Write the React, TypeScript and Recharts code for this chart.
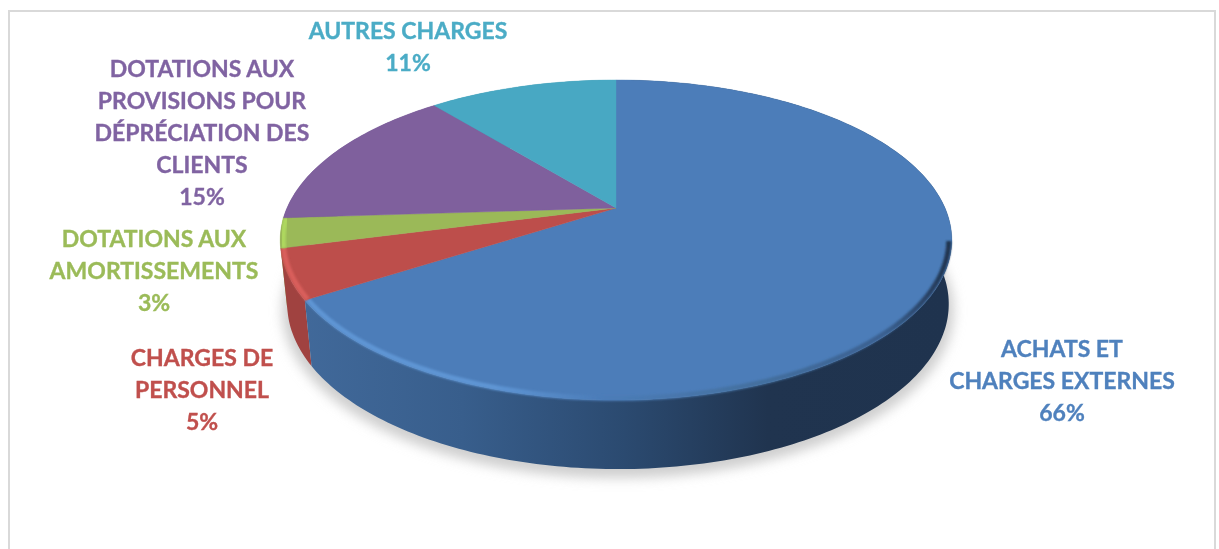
import { PieChart, Pie, Cell } from "recharts";

const categories = [
  "ACHATS ET CHARGES EXTERNES",
  "CHARGES DE PERSONNEL",
  "DOTATIONS AUX AMORTISSEMENTS",
  "DOTATIONS AUX PROVISIONS POUR DÉPRÉCIATION DES CLIENTS",
  "AUTRES CHARGES",
];
const shares = [66, 5, 3, 15, 11];
const labelLines = [
  ["ACHATS ET", "CHARGES EXTERNES"],
  ["CHARGES DE", "PERSONNEL"],
  ["DOTATIONS AUX", "AMORTISSEMENTS"],
  ["DOTATIONS AUX", "PROVISIONS POUR", "DÉPRÉCIATION DES", "CLIENTS"],
  ["AUTRES CHARGES"],
];

const colors = ["#4c7db9", "#bd4e4b", "#9bb958", "#7f609d", "#48a8c3"];
const textColors = ["#4f81bd", "#c0504d", "#9bbb59", "#8064a2", "#4bacc6"];
const rims = ["url(#rimBlue)", "#d95f5b", "#aed85f", "none", "none"];
const walls = ["url(#wallBlue)", "#a04240", "#88a64c", "#6f5590", "#3f93a9"];
const labelBoxes = [
  { x: 1062, y: 357, gap: 32 },
  { x: 202, y: 366, gap: 32 },
  { x: 154, y: 247, gap: 32 },
  { x: 202, y: 77, gap: 32 },
  { x: 408, y: 39, gap: 32 },
];

const data = categories.map((name, i) => ({ name, value: shares[i] }));
const sideData = [...data].reverse();
const wholeData = [{ name: "total", value: shares.reduce((a, b) => a + b, 0) }];

const WIDTH = 1219;
const HEIGHT = 549;

// the pie is tilted with perspective: near edge is bigger than the far edge
const TOP = { dx: 0, dy: 0, scale: 1, ratio: 0.467 };
const BOTTOM = { dx: 2, dy: 63, scale: 0.985, ratio: 0.489 };
const SHADOW = { dx: 2, dy: 69, scale: 1.0, ratio: 0.489 };
const K = 0.2;

type Ring = { dx: number; dy: number; scale: number; ratio: number };

function project(cx: number, cy: number, r: number, ring: Ring, angle: number) {
  const rad = ((90 - angle) * Math.PI) / 180; // clockwise from the top
  const w = 1 + K * Math.cos(rad);
  return {
    x: cx + ring.dx + (r * ring.scale * Math.sin(rad)) / w,
    y: cy + ring.dy - (r * ring.scale * ring.ratio * Math.cos(rad)) / w,
  };
}

function arcPoints(p: any, ring: Ring, from: number, to: number) {
  const steps = Math.max(2, Math.ceil(Math.abs(to - from)));
  const pts = [];
  for (let i = 0; i <= steps; i++) {
    pts.push(project(p.cx, p.cy, p.outerRadius, ring, from + ((to - from) * i) / steps));
  }
  return pts;
}

const toPath = (pts: { x: number; y: number }[]) =>
  pts.map((q, i) => `${i ? "L" : "M"}${q.x.toFixed(2)},${q.y.toFixed(2)}`).join(" ");

function TopSector(props: any) {
  const { cx, cy, startAngle, endAngle, fill } = props;
  const idx = colors.indexOf(fill);
  const arc = arcPoints(props, TOP, startAngle, endAngle);
  const d = `M${cx},${cy} ${toPath(arc).replace("M", "L")} Z`;
  // rim only on the front of the pie, starts at the widest point on the right
  const s = Math.min(startAngle, -12);
  const rimFrom = Math.max(endAngle, -180);
  const hasRim = rims[idx] !== "none" && s > rimFrom;
  const inset = { ...TOP, scale: 0.991 };
  return (
    <g>
      <path d={d} fill={fill} stroke={fill} strokeWidth={0.4} />
      {hasRim && (
        <path
          d={toPath(arcPoints(props, inset, s, rimFrom))}
          fill="none"
          stroke={rims[idx]}
          strokeWidth={5}
          filter="url(#soft)"
        />
      )}
    </g>
  );
}

function WallSector(props: any) {
  const { startAngle, endAngle, fill } = props;
  const a = arcPoints(props, TOP, startAngle, endAngle);
  const b = arcPoints(props, BOTTOM, endAngle, startAngle);
  return <path d={`${toPath(a)} ${toPath(b).replace("M", "L")} Z`} fill={fill} />;
}

function ShadowShape(props: any) {
  const pts = arcPoints(props, SHADOW, 90, -269);
  return <path d={`${toPath(pts)} Z`} fill="#cfcfcf" filter="url(#shadowBlur)" />;
}

function renderLabel(props: any) {
  const i = props.index;
  const box = labelBoxes[i];
  const lines = [...labelLines[i], `${shares[i]}%`];
  return (
    <text
      key={i}
      x={box.x}
      y={box.y}
      textAnchor="middle"
      fill={textColors[i]}
      stroke={textColors[i]}
      strokeWidth={0.35}
      fontFamily="Lato"
      fontWeight={700}
      fontSize={23}
      filter="url(#textSoft)"
    >
      {lines.map((line, n) => (
        <tspan key={n} x={box.x} dy={n === 0 ? 0 : box.gap}>
          {line}
        </tspan>
      ))}
    </text>
  );
}

export default function App() {
  return (
    <div style={{ position: "absolute", left: 0, top: 0, width: WIDTH, height: HEIGHT, overflow: "hidden", background: "#fff" }}>
      <div
        style={{
          position: "absolute",
          left: 8,
          top: 10,
          width: WIDTH - 11,
          height: HEIGHT,
          border: "2px solid #d9d9d9",
          boxSizing: "border-box",
        }}
      />
      <div style={{ position: "absolute", left: 0, top: 0 }}>
        <PieChart width={WIDTH} height={HEIGHT} margin={{ top: 0, right: 0, bottom: 0, left: 0 }}>
          <defs>
            <linearGradient id="wallBlue" gradientUnits="userSpaceOnUse" x1="300" y1="0" x2="950" y2="0">
              <stop offset="0" stopColor="#41699a" />
              <stop offset="0.25" stopColor="#385e8c" />
              <stop offset="0.5" stopColor="#2b4a70" />
              <stop offset="0.72" stopColor="#20344f" />
              <stop offset="1" stopColor="#1f334e" />
            </linearGradient>
            <linearGradient id="rimBlue" gradientUnits="userSpaceOnUse" x1="300" y1="0" x2="950" y2="0">
              <stop offset="0" stopColor="#5e95d4" />
              <stop offset="0.3" stopColor="#5e95d4" />
              <stop offset="0.46" stopColor="#4c7db9" />
              <stop offset="0.7" stopColor="#44709f" />
              <stop offset="0.9" stopColor="#3a6090" />
              <stop offset="1" stopColor="#1f334e" />
            </linearGradient>
            <filter id="soft" x="-10%" y="-10%" width="120%" height="120%">
              <feGaussianBlur stdDeviation="1.1" />
            </filter>
            <filter id="textSoft" x="-5%" y="-5%" width="110%" height="110%">
              <feGaussianBlur stdDeviation="0.4" />
            </filter>
            <filter id="shadowBlur" x="-10%" y="-10%" width="120%" height="120%">
              <feGaussianBlur stdDeviation="6" />
            </filter>
          </defs>
          <Pie
            data={wholeData}
            dataKey="value"
            cx={616}
            cy={208}
            outerRadius={329}
            startAngle={90}
            endAngle={-270}
            stroke="none"
            shape={ShadowShape}
            isAnimationActive={false}
          />
          <Pie
            data={sideData}
            dataKey="value"
            cx={616}
            cy={208}
            outerRadius={329}
            startAngle={-270}
            endAngle={90}
            stroke="none"
            shape={WallSector}
            isAnimationActive={false}
          >
            {sideData.map((_, i) => (
              <Cell key={i} fill={walls[walls.length - 1 - i]} />
            ))}
          </Pie>
          <Pie
            data={data}
            dataKey="value"
            cx={616}
            cy={208}
            outerRadius={329}
            startAngle={90}
            endAngle={-270}
            stroke="none"
            shape={TopSector}
            label={renderLabel}
            labelLine={false}
            isAnimationActive={false}
          >
            {data.map((_, i) => (
              <Cell key={i} fill={colors[i]} />
            ))}
          </Pie>
        </PieChart>
      </div>
    </div>
  );
}
